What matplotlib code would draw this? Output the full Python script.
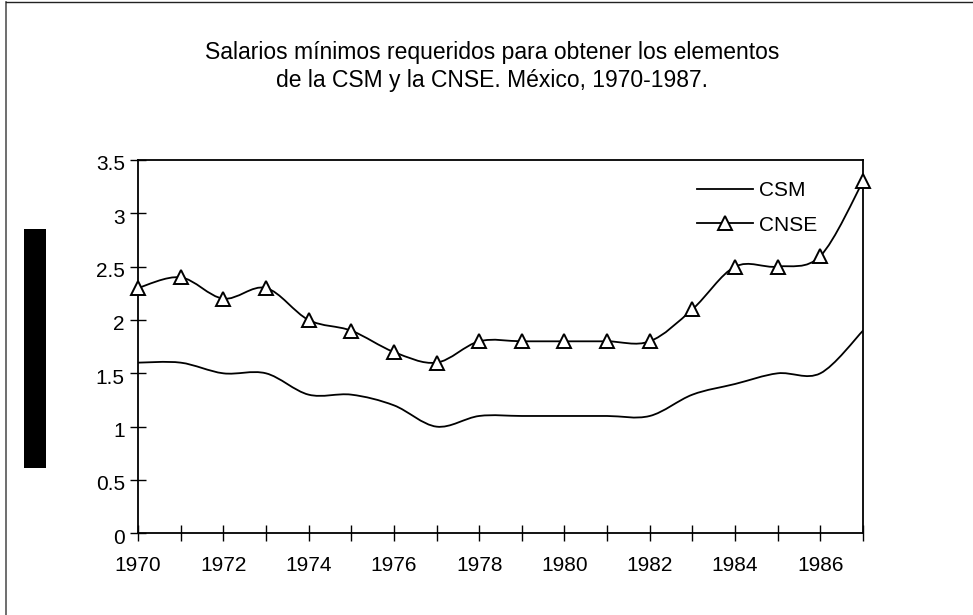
import matplotlib
matplotlib.use("Agg")
import matplotlib.pyplot as plt
from matplotlib.path import Path
from matplotlib.patches import PathPatch, Rectangle
from matplotlib.lines import Line2D
from matplotlib.transforms import ScaledTranslation
import numpy as np

plt.rcParams['font.family'] = ['Liberation Sans', 'DejaVu Sans']

years = [1970, 1971, 1972, 1973, 1974, 1975, 1976, 1977, 1978, 1979,
         1980, 1981, 1982, 1983, 1984, 1985, 1986, 1987]
csm = [1.6, 1.6, 1.5, 1.5, 1.3, 1.3, 1.2, 1.0, 1.1, 1.1,
       1.1, 1.1, 1.1, 1.3, 1.4, 1.5, 1.5, 1.9]
cnse = [2.3, 2.4, 2.2, 2.3, 2.0, 1.9, 1.7, 1.6, 1.8, 1.8,
        1.8, 1.8, 1.8, 2.1, 2.5, 2.5, 2.6, 3.3]
yticks = [0, 0.5, 1, 1.5, 2, 2.5, 3, 3.5]
ytick_labels = ['0', '0.5', '1', '1.5', '2', '2.5', '3', '3.5']
title_lines = ["Salarios mínimos requeridos para obtener los elementos",
               "de la CSM y la CNSE. México, 1970-1987."]
series_names = ["CSM", "CNSE"]


def smooth_path(xs, ys):
    """Excel-like smoothed line: Bezier segments through the data points."""
    P = np.column_stack([xs, ys]).astype(float)
    n = len(P)
    verts = [P[0]]
    codes = [Path.MOVETO]
    for i in range(n - 1):
        p0 = P[i - 1] if i > 0 else P[i]
        p1 = P[i]
        p2 = P[i + 1]
        p3 = P[i + 2] if i + 2 < n else P[i + 1]
        c1 = p1 + (p2 - p0) / 6.0
        c2 = p2 - (p3 - p1) / 6.0
        verts += [c1, c2, p2]
        codes += [Path.CURVE4] * 3
    return Path(verts, codes)


W, H = 973, 615
fig = plt.figure(figsize=(W / 100, H / 100), dpi=100)

# outer border (left and top only visible)
fig.add_artist(Line2D([6 / W, 6 / W], [0, 1 - 2 / H], transform=fig.transFigure,
                      color='#555555', lw=1.2))
fig.add_artist(Line2D([6 / W, 1], [1 - 2 / H, 1 - 2 / H], transform=fig.transFigure,
                      color='#222222', lw=1.0))

# black block on the left
fig.add_artist(Rectangle((24 / W, 1 - 468 / H), 22 / W, 239 / H,
                         transform=fig.transFigure, facecolor='black',
                         edgecolor='none'))

left, right, top, bottom = 138, 863, 160, 533.3
ax = fig.add_axes([left / W, 1 - bottom / H, (right - left) / W, (bottom - top) / H])

lw = 1.3
ax.add_patch(PathPatch(smooth_path(years, csm), fill=False, edgecolor='black',
                       lw=lw, capstyle='round', joinstyle='round'))
ax.add_patch(PathPatch(smooth_path(years, cnse), fill=False, edgecolor='black',
                       lw=lw, capstyle='round', joinstyle='round'))
ax.plot(years, cnse, linestyle='none', marker='^', ms=10, mfc='white',
        mec='black', mew=1.4, clip_on=False, zorder=5)

ax.set_xlim(1970, 1987)
ax.set_ylim(0, 3.5)
ax.set_xticks(years)
ax.set_xticklabels([str(y) if (y - 1970) % 2 == 0 and y != 1987 else '' for y in years])
ax.set_yticks(yticks)
ax.set_yticklabels(ytick_labels)
ax.tick_params(axis='both', direction='inout', length=11, width=1.0,
               labelsize=15, colors='black')
ax.tick_params(axis='x', pad=11)
ax.tick_params(axis='y', pad=4)
for lab in ax.get_yticklabels():
    lab.set_transform(lab.get_transform() +
                      ScaledTranslation(0, -3 / 100, fig.dpi_scale_trans))
for s in ax.spines.values():
    s.set_color('black')
    s.set_linewidth(1.3)

# legend
handles = [Line2D([], [], color='black', lw=lw),
           Line2D([], [], color='black', lw=lw, marker='^', ms=10, mfc='white',
                  mec='black', mew=1.4)]
leg = ax.legend(handles, series_names, loc='upper left',
                bbox_to_anchor=(697 / W, 1 - 181 / H), bbox_transform=fig.transFigure,
                frameon=False, fontsize=15, handlelength=2.7, handletextpad=0.3,
                labelspacing=0.75, borderpad=0, borderaxespad=0)

fig.text(492 / W, 1 - 52 / H, title_lines[0], ha='center', va='center', fontsize=16.5)
fig.text(492 / W, 1 - 81 / H, title_lines[1], ha='center', va='center', fontsize=16.5)

fig.savefig('out.png', dpi=100)
